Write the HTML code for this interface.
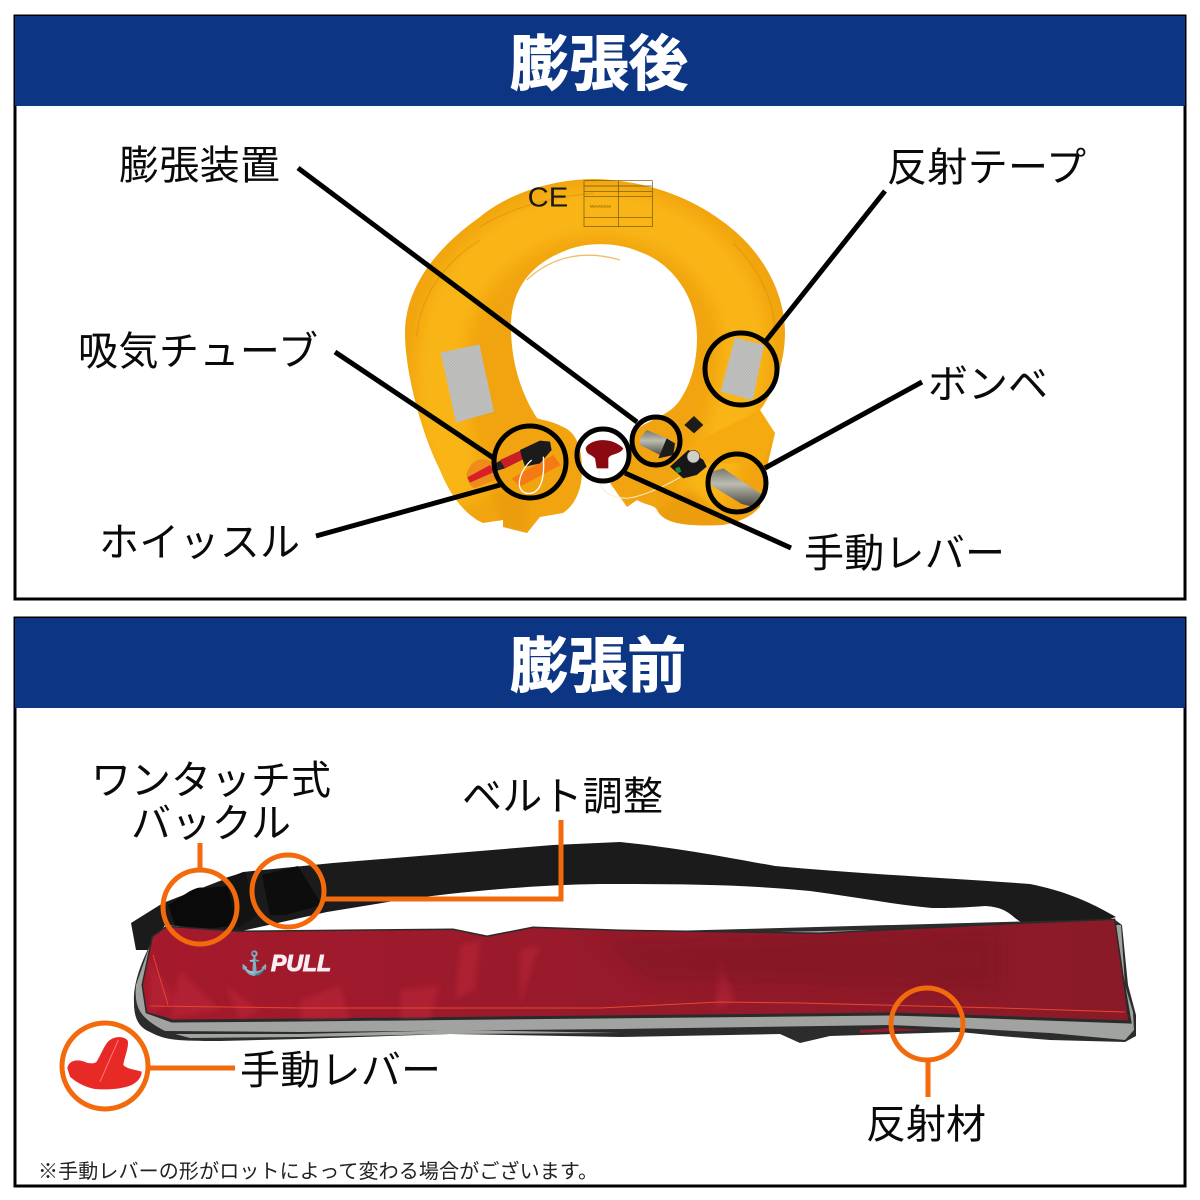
<!DOCTYPE html>
<html lang="ja"><head><meta charset="utf-8"><title>膨張後 膨張前</title>
<style>html,body{margin:0;padding:0;background:#fff}svg{display:block}
text{font-family:"Liberation Sans","Noto Sans CJK JP",sans-serif}
.l{font-size:40px;fill:#0a0a0a}
.t{font-size:60px;font-weight:700;fill:#fff;stroke:#fff;stroke-width:1px;paint-order:stroke}
</style></head><body>
<svg width="1200" height="1200" viewBox="0 0 1200 1200" xmlns="http://www.w3.org/2000/svg">
<defs>
<pattern id="dots" width="4" height="4" patternUnits="userSpaceOnUse" patternTransform="rotate(30)"><rect width="4" height="4" fill="#c9cac8"/><circle cx="2" cy="2" r="1.1" fill="#858786"/></pattern>
<linearGradient id="red" x1="0" y1="0" x2="1" y2="0"><stop offset="0" stop-color="#a51a2c"/><stop offset=".45" stop-color="#971a2b"/><stop offset="1" stop-color="#8a1a27"/></linearGradient>
<linearGradient id="cyl" x1="0" y1="0" x2="0" y2="1"><stop offset="0" stop-color="#77776e"/><stop offset=".4" stop-color="#bdbcb1"/><stop offset="1" stop-color="#45443e"/></linearGradient>
<filter id="b8" x="-20%" y="-20%" width="140%" height="140%"><feGaussianBlur stdDeviation="8"/></filter>
<filter id="b3" x="-20%" y="-20%" width="140%" height="140%"><feGaussianBlur stdDeviation="3"/></filter>
<clipPath id="ringclip"><path d="M582 470 C582 445 575 432 563 427 C550 420 540 420 537 418 C523 397 511 365 511 327 C511 285 535 262 567 250 C590 241 620 243 640 252 C670 262 697 295 697 337 C697 365 690 385 680 400 C670 415 650 420 640 427 C630 435 628 450 627 467 C622 475 615 480 610 483 L627 507 L637 500 C645 505 655 505 657 510 C663 522 680 527 723 525 C740 522 752 516 760 507 C763 490 765 475 768 463 L775 433 L760 410 C772 395 785 365 785 333 C785 295 765 258 737 233 C700 200 650 180 593 179 C540 180 500 200 480 217 C440 245 405 285 405 333 C405 370 420 430 440 470 C450 495 465 515 483 523 L503 520 L503 527 L527 533 L540 517 L563 513 C575 505 582 490 582 470Z"/></clipPath>
<clipPath id="redclip"><path d="M153 937 L167 927 L237 932 L453 930 L487 937 L533 928 L620 931 L820 934 L1020 924 L1114 920 L1122 975 L1130 1022 L960 1016 L890 1014 L600 1017 L300 1020 L172 1021 L147 1012 L143 985Z"/></clipPath>
</defs>
<rect width="1200" height="1200" fill="#fff"/>

<!-- panel 1 -->
<rect x="15" y="16" width="1170" height="583" fill="#fff" stroke="#000" stroke-width="3"/>
<rect x="15" y="16" width="1170" height="90" fill="#0c3684"/>
<text class="t" x="599" y="85" text-anchor="middle" textLength="178" lengthAdjust="spacingAndGlyphs">膨張後</text>

<!-- life ring -->
<g clip-path="url(#ringclip)">
<rect x="395" y="170" width="400" height="370" fill="#f1a40f"/>
<path d="M470 500 C440 440 430 370 450 310 C480 240 550 210 600 212 C680 215 740 270 745 340 C745 400 720 460 700 500" fill="none" stroke="#f9b518" stroke-width="48" filter="url(#b8)"/>
<path fill="#eb9d0b" filter="url(#b3)" d="M503 527 L493 490 L527 500 L527 533Z M657 510 L690 490 L730 525 L670 530Z"/>
</g>
<g transform="translate(380 170) scale(.33333)">
<path fill="none" stroke="#e0930a" stroke-width="4" opacity=".6" d="M300 170 C400 110 520 80 640 70 M1060 220 C1140 300 1180 390 1185 480 M110 500 C120 380 190 280 300 210 M440 330 C520 255 620 240 720 270"/>
<text x="443" y="110" font-size="84" fill="#1a1a1a" textLength="122" lengthAdjust="spacingAndGlyphs">CE</text>
<g fill="none" stroke="#6a5510" stroke-width="2"><rect x="612" y="32" width="205" height="138"/><path d="M612 48H817M612 65H817M612 80H817M612 142H817M715 32V170"/></g>
<text x="630" y="112" font-size="11" fill="#6a5510">Manufacturer</text>
<path d="M182 548 L298 523 L342 725 L228 758Z" fill="url(#dots)"/>
<path d="M1065 503 L1152 525 L1118 690 L1022 665Z" fill="url(#dots)"/>
</g>
<g transform="translate(440 400) scale(.33333)">
<path fill="#f5aa10" d="M740 140 L960 30 L1005 100 L970 190 L800 190Z"/>
<path d="M733 75 L762 48 L790 75 L762 100Z" fill="#1d1c18"/>
<path d="M80 220 C95 175 135 165 165 195 L165 240 L105 265 C90 260 80 240 80 220Z" fill="#ed8c1a"/>
<path d="M215 235 L340 165 L362 195 L240 260Z" fill="#f57a14"/>
<path d="M82 232 L150 195 L165 215 L90 248Z" fill="#d81f27"/>
<path d="M165 190 L185 180 L195 205 L172 212Z" fill="#222"/>
<path d="M180 180 L245 150 L255 175 L195 205Z" fill="#c71f24"/>
<path d="M240 150 L300 122 L330 125 L335 150 L300 190 L255 200 L245 170Z" fill="#1b1b1b"/>
<path d="M310 170 C315 240 300 285 260 280 C220 270 240 210 275 180" fill="none" stroke="#fff" stroke-width="4"/>
<path d="M437 145 C445 120 510 105 550 145 C540 165 510 160 505 175 L505 205 L470 205 L465 175 C450 160 440 165 437 145Z" fill="#8b0a12"/>
<path d="M478 205 C470 270 500 290 560 295 C610 290 680 255 720 232" fill="none" stroke="#f7ecd6" stroke-width="3"/>
<path d="M600 115 L620 90 L695 120 L670 170 L600 135Z" fill="url(#cyl)"/>
<path d="M680 115 L705 130 L700 165 L655 175Z" fill="#1d1d1b"/>
<path d="M690 200 L745 150 L790 180 L800 200 L770 225 L730 235Z" fill="#17171a"/>
<circle cx="760" cy="170" r="19" fill="#d0d0c8" stroke="#333" stroke-width="2"/>
<path d="M705 205 L718 200 L724 215 L712 220Z" fill="#1d8a3c"/>
<path d="M815 215 L850 205 L975 290 L945 322 L905 312 L812 255Z" fill="url(#cyl)"/>
</g>

<!-- black lines panel 1 -->
<g stroke="#000" stroke-width="5" fill="none">
<path d="M298 168 L637 422"/>
<path d="M885 191 L765 342"/>
<path d="M335 352 L495 459"/>
<path d="M922 382 L765 468"/>
<path d="M316 536 L500 485"/>
<path d="M625 473 L791 548"/>
<circle cx="741" cy="369" r="36"/>
<circle cx="656" cy="441" r="24"/>
<circle cx="737" cy="483" r="29"/>
<circle cx="530" cy="462" r="36"/>
<circle cx="603" cy="455" r="26"/>
</g>
<text class="l" x="119" y="179" textLength="161">膨張装置</text>
<text class="l" x="887" y="181" textLength="199">反射テープ</text>
<text class="l" x="78" y="365" textLength="240">吸気チューブ</text>
<text class="l" x="928" y="398" textLength="120">ボンベ</text>
<text class="l" x="99" y="556" textLength="201">ホイッスル</text>
<text class="l" x="804" y="567" textLength="201">手動レバー</text>

<!-- panel 2 -->
<rect x="15" y="618" width="1170" height="568" fill="#fff" stroke="#000" stroke-width="3"/>
<rect x="15" y="618" width="1170" height="90" fill="#0c3684"/>
<text class="t" x="598" y="687" text-anchor="middle" textLength="176" lengthAdjust="spacingAndGlyphs">膨張前</text>

<!-- belt strap -->
<path fill="#1b1b1b" d="M131 923 L163 903 L243 872 L333 863 L553 845 L620 842 C680 848 730 858 775 866 C860 874 950 878 1030 884 C1070 892 1095 905 1116 917 L1090 925 L1051 927 C1035 930 1023 924 1015 918 C1008 912 1002 907 985 906 C960 908 945 908 932 908 C890 904 850 896 810 891 C740 884 670 884 600 884 C530 885 460 892 400 900 L327 912 L237 932 L165 925 L150 950 L136 950Z"/>
<!-- buckle -->
<path fill="#0a0a0a" d="M168 905 C185 895 195 885 205 888 L240 885 L237 925 L200 930 L175 925Z"/>
<path fill="#131313" d="M225 878 L245 872 L258 915 L238 928Z"/>
<path fill="#0d0d0d" d="M262 875 L298 866 L322 905 L285 915 L270 915Z"/>
<!-- body -->
<path fill="#2c2c2c" d="M150 945 C140 965 133 985 134 1003 C134 1020 140 1028 150 1032 C165 1040 175 1041 220 1041 L300 1039 L450 1034 L620 1037 L780 1034 L800 1043 L830 1036 L960 1032 L1000 1036 L1050 1040 L1125 1042 L1136 1036 L1136 1015 L1128 985 L1122 925 L1114 919Z"/>
<path fill="#a1a3a0" d="M150 945 L136 985 C134 1008 140 1018 165 1031 L300 1032 L620 1029 L890 1025 L960 1028 L1050 1033 L1125 1040 L1134 1030 L1133 1012 L1125 985 L1121 925 L1112 925Z"/>
<path fill="#a1a3a0" d="M175 1034 L300 1034 L460 1030 L620 1033 L450 1034 L300 1037 L190 1038Z"/>
<path fill="#8f1a2a" d="M860 1030 L890 1028 L925 1030 L860 1033Z"/>
<path fill="url(#red)" stroke="#2a2a2a" stroke-width="3" d="M153 937 L167 927 L237 932 L453 930 L487 937 L533 928 L620 931 L820 934 L1020 924 L1114 920 L1122 975 L1130 1022 L960 1016 L890 1014 L600 1017 L300 1020 L172 1021 L147 1012 L143 985Z"/>
<path fill="url(#red)" d="M153 937 L167 927 L237 932 L453 930 L487 937 L533 928 L620 931 L820 934 L1020 924 L1114 920 L1122 975 L1128 1020 L960 1014 L890 1012 L600 1015 L300 1018 L172 1019 L147 1012 L143 985Z"/>
<g clip-path="url(#redclip)">
<g fill="#c42a3e" opacity=".45" filter="url(#b3)"><path d="M460 945 L480 940 L475 990 L455 1000Z M720 960 L735 1000 L715 1010Z M520 950 L540 945 L520 1005Z M300 1000 L340 985 L350 1020 L300 1020Z M180 970 L220 1010 L170 1018Z M400 990 L440 985 L430 1020 L400 1020Z M225 985 L260 1010 L240 1020Z M150 960 L175 1000 L150 1015Z"/></g>
<g fill="#7c1522" opacity=".45" filter="url(#b8)"><path d="M600 940 L1000 930 L1000 990 L650 980Z"/></g>
</g>
<path fill="none" stroke="#e8452f" stroke-width="1" d="M150 1006 L300 1008 L600 1008 L720 1002 L800 1003 L1000 1008 L1125 1012 M153 955 L168 1005"/>
<text x="240" y="971" font-size="23" fill="#fbeef2" stroke="#fbeef2" stroke-width=".8" font-family="DejaVu Sans">⚓</text>
<text x="271" y="971" font-size="23" font-weight="700" font-style="italic" fill="#fbeef2" stroke="#fbeef2" stroke-width="1" textLength="60" lengthAdjust="spacingAndGlyphs">PULL</text>

<!-- orange -->
<g stroke="#f26a0c" stroke-width="5" fill="none">
<path d="M200 843 V870"/>
<circle cx="200" cy="907" r="37"/>
<circle cx="288" cy="891" r="36"/>
<path d="M325 899 H561 V820"/>
<circle cx="927" cy="1024" r="36"/>
<path d="M928 1062 V1097"/>
<circle cx="105" cy="1066" r="43"/>
<path d="M150 1068 H235"/>
</g>
<g transform="translate(50 1010) scale(.33333)">
<path fill="#e82a26" d="M52 175 C55 150 85 145 110 158 C125 162 135 160 140 155 C155 130 165 100 180 90 C195 78 225 78 233 92 C238 110 222 145 220 165 C232 178 255 178 275 185 C275 200 265 215 245 225 C215 238 165 240 135 237 C105 232 75 215 60 200 Z"/>
<path fill="none" stroke="#f77" stroke-width="3" d="M205 90 L150 215"/>
</g>

<text class="l" x="91" y="794" textLength="240">ワンタッチ式</text>
<text class="l" x="131" y="837" textLength="160">バックル</text>
<text class="l" x="462" y="810" textLength="201">ベルト調整</text>
<text class="l" x="240" y="1084" textLength="201">手動レバー</text>
<text class="l" x="866" y="1138" textLength="120">反射材</text>
<text x="38" y="1178" font-size="20" fill="#222" textLength="560">※手動レバーの形がロットによって変わる場合がございます。</text>
</svg>
</body></html>
